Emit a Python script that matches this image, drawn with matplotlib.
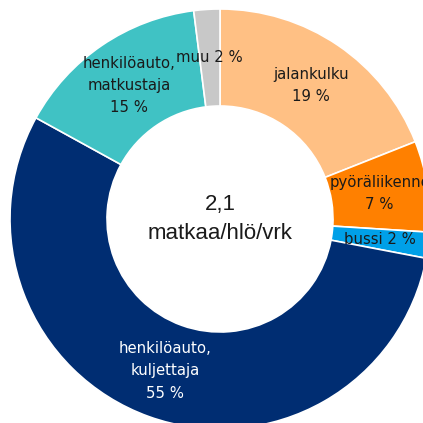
import matplotlib
matplotlib.use("Agg")
import matplotlib.pyplot as plt

categories = ["jalankulku", "pyöräliikenne", "bussi", "henkilöauto,\nkuljettaja",
              "henkilöauto,\nmatkustaja", "muu"]
values = [19, 7, 2, 55, 15, 2]
label_fmt = ["{n}\n{v} %", "{n}\n{v} %", "{n} {v} %", "{n}\n{v} %", "{n}\n{v} %", "{n} {v} %"]
colors = ["#FFC084", "#FF8000", "#00A0E8", "#002D72", "#40C2C4", "#C8C8C8"]
text_colors = ["#1a1a1a", "#1a1a1a", "#1a1a1a", "#ffffff", "#1a1a1a", "#1a1a1a"]
center_value = "2,1"
center_unit = "matkaa/hlö/vrk"

W = 423
fig = plt.figure(figsize=(W / 100, W / 100), dpi=100)
ax = fig.add_axes([0, 0, 1, 1])

cx, cy = 220, W - 219
R_out, R_in = 210, 113
labels = [f.format(n=n, v=v) for f, n, v in zip(label_fmt, categories, values)]
wedges, texts = ax.pie(values, labels=labels, colors=colors, startangle=90,
                       counterclock=False, center=(cx, cy), radius=R_out,
                       labeldistance=(R_out + R_in) / 2 / R_out,
                       wedgeprops=dict(width=R_out - R_in, edgecolor="white", linewidth=1.2),
                       frame=True)
ax.set_xlim(0, W)
ax.set_ylim(0, W)
ax.set_aspect("equal")
ax.axis("off")
for t, c in zip(texts, text_colors):
    t.set_ha("center")
    t.set_va("center")
    t.set_multialignment("center")
    t.set_color(c)
    t.set_fontsize(10.7)
    t.set_family("DejaVu Sans")
    t.set_linespacing(1.6)

ax.text(cx, cy, center_value + "\n" + center_unit, ha="center", va="center",
        fontsize=16, family="Liberation Sans", color="#1a1a1a", linespacing=1.5)

fig.savefig("out.png", dpi=100)
